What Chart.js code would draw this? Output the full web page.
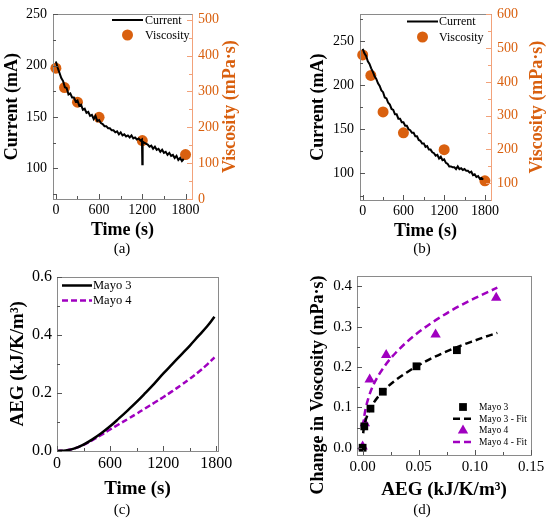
<!DOCTYPE html>
<html>
<head>
<meta charset="utf-8">
<script src="https://cdn.jsdelivr.net/npm/chart.js@4.4.1/dist/chart.umd.min.js"></script>
<style>
  body { margin: 0; background: #fff; width: 550px; height: 524px; position: relative; overflow: hidden; font-family: "Liberation Serif", serif; }
  canvas { position: absolute; }
  .cap { position: absolute; width: 60px; text-align: center; font-size: 15px; line-height: 15px; color: #000; }
</style>
</head>
<body>
<canvas id="chartA" width="275" height="262" style="left:0;top:0"></canvas>
<canvas id="chartB" width="275" height="262" style="left:275px;top:0"></canvas>
<canvas id="chartC" width="275" height="262" style="left:0;top:262px"></canvas>
<canvas id="chartD" width="275" height="262" style="left:275px;top:262px"></canvas>
<div class="cap" style="left:92px;top:241px">(a)</div>
<div class="cap" style="left:392px;top:241px">(b)</div>
<div class="cap" style="left:92px;top:502px">(c)</div>
<div class="cap" style="left:392px;top:502px">(d)</div>
<script>
const FONT = '"Liberation Serif", "Times New Roman", serif';
const ORANGE = '#D9600F';
const ORANGE_LIGHT = '#F2A27A';
const PURPLE = '#A000C0';
const FRAME = '#8a8a8a';

// panel (a) - current trace
const timeA = [0, 25, 50, 75, 100, 125, 150, 175, 200, 225, 250, 275, 300, 325, 350, 375, 400, 425, 450, 475,
  500, 525, 550, 575, 600, 625, 650, 675, 700, 725, 750, 775, 800, 825, 850, 875, 900, 925, 950, 975,
  1000, 1025, 1050, 1075, 1100, 1125, 1150, 1175, 1195, 1200, 1205, 1225, 1250, 1275, 1300, 1325, 1350, 1375,
  1400, 1425, 1450, 1475, 1500, 1525, 1550, 1575, 1600, 1625, 1650, 1675, 1700, 1725, 1750, 1775];
const currentA = [204, 198, 193, 188, 185, 179, 178, 172, 173, 169, 169, 165, 166, 161, 162, 157, 158, 154, 155, 151,
  152, 148, 151, 146, 147, 144, 143, 141, 141, 139, 139, 137, 137, 135, 136, 133, 135, 132, 133, 131,
  132, 130, 132, 129, 130, 128, 129, 127, 128, 104, 126, 125, 124, 123, 121, 122, 119, 121,
  118, 119, 116, 118, 115, 116, 113, 115, 112, 113, 110, 112, 108, 110, 107, 109];

// viscosity samples (a) and (b)
const viscTime = [0, 120, 300, 600, 1200, 1800];
const viscA = [365, 311, 270, 228, 163, 124];
const viscB = [480, 419, 311, 249, 199, 107];

// panel (b) - current trace
const timeB = [0, 25, 50, 75, 100, 125, 150, 175, 200, 225, 250, 275, 300, 325, 350, 375, 400, 425, 450, 475,
  500, 525, 550, 575, 600, 625, 650, 675, 700, 725, 750, 775, 800, 825, 850, 875, 900, 925, 950, 975,
  1000, 1025, 1050, 1075, 1100, 1125, 1150, 1175, 1200, 1225, 1250, 1275, 1300, 1325, 1350, 1375,
  1400, 1425, 1450, 1475, 1500, 1525, 1550, 1575, 1600, 1625, 1650, 1675, 1700, 1725, 1750, 1775];
const currentB = [241, 236, 233, 227, 224, 219, 215, 210, 207, 202, 199, 194, 192, 186, 185, 180, 178, 173, 172, 167,
  167, 162, 162, 158, 158, 154, 154, 150, 149, 146, 146, 142, 142, 138, 137, 134, 134, 130, 131, 127,
  127, 124, 123, 120, 121, 117, 119, 115, 116, 112, 111, 108, 108, 107, 107, 105,
  108, 105, 106, 104, 105, 103, 103, 101, 102, 98, 99, 96, 97, 94, 95, 93];

// panel (c) - accumulated energy
const timeC = [0, 100, 200, 300, 400, 500, 600, 700, 800, 900, 1000, 1100, 1200, 1300, 1400, 1500, 1600, 1700, 1780];
const aegMayo3 = [0, 0.002, 0.009, 0.022, 0.040, 0.061, 0.085, 0.112, 0.140, 0.169, 0.200, 0.232, 0.266, 0.298, 0.330, 0.362, 0.396, 0.430, 0.462];
const aegMayo4 = [0, 0.002, 0.009, 0.021, 0.037, 0.055, 0.074, 0.092, 0.110, 0.128, 0.147, 0.166, 0.185, 0.205, 0.226, 0.248, 0.272, 0.298, 0.322];

// panel (d) - viscosity change vs AEG
const aegPts3 = [0, 0.0015, 0.007, 0.018, 0.048, 0.084];
const dVisc3 = [0, 0.053, 0.097, 0.139, 0.202, 0.242];
const aegPts4 = [0, 0.002, 0.0063, 0.021, 0.065, 0.119];
const dVisc4 = [0.003, 0.061, 0.169, 0.230, 0.281, 0.372];
const fitX = [0.0005, 0.001, 0.002, 0.005, 0.01, 0.02, 0.03, 0.04, 0.05, 0.06, 0.07, 0.08, 0.09, 0.10, 0.11, 0.12];
const fit3 = [0.036, 0.047, 0.061, 0.086, 0.112, 0.145, 0.169, 0.188, 0.205, 0.220, 0.233, 0.245, 0.256, 0.266, 0.276, 0.285];
const fit4 = [0.052, 0.067, 0.087, 0.122, 0.158, 0.204, 0.237, 0.264, 0.287, 0.307, 0.325, 0.342, 0.357, 0.371, 0.384, 0.397];

// tick values
const timeTicks = [0, 600, 1200, 1800];
const timeMinor = [300, 900, 1500];

function pts(xs, ys) {
  return xs.map((x, i) => ({x: x, y: ys[i]}));
}

function font(size, bold) {
  return {family: FONT, size: size, weight: bold ? 'bold' : 'normal', lineHeight: 1.2};
}

function axis(o) {
  return {
    type: 'linear',
    position: o.position,
    min: o.min,
    max: o.max,
    afterBuildTicks: s => { s.ticks = o.ticks.map(v => ({value: v})); },
    afterFit: s => { if (s.isHorizontal()) s.height = o.size; else s.width = o.size; },
    grid: {display: false, drawTicks: false},
    border: {display: false},
    ticks: {
      font: font(o.fontSize),
      color: o.color || '#000',
      padding: o.pad,
      autoSkip: false,
      maxRotation: 0,
      callback: o.fmt || (v => String(v))
    },
    title: o.title ? {display: true, text: o.title, color: '#000', font: font(o.titleSize, true), padding: 0} : {display: false}
  };
}

// frame, inward ticks, rotated y titles and in-plot legend
const decor = {
  id: 'decor',
  afterDraw(chart, args, opts) {
    const ctx = chart.ctx;
    const a = chart.chartArea;
    ctx.save();
    ctx.lineWidth = 1;
    ctx.strokeStyle = FRAME;
    ctx.strokeRect(Math.round(a.left) + 0.5, Math.round(a.top) + 0.5, Math.round(a.right - a.left), Math.round(a.bottom - a.top));
    if (opts.rightColor) {
      ctx.strokeStyle = opts.rightColor;
      ctx.beginPath();
      ctx.moveTo(Math.round(a.right) + 0.5, a.top);
      ctx.lineTo(Math.round(a.right) + 0.5, a.bottom + 1);
      ctx.stroke();
    }

    Object.keys(opts.minor || {}).forEach(id => {
      const sc = chart.scales[id];
      ctx.strokeStyle = id === 'y1' ? opts.rightColor : '#555';
      const mark = (v, len) => {
        const p = Math.round(sc.getPixelForValue(v)) + 0.5;
        ctx.beginPath();
        if (sc.isHorizontal()) {
          ctx.moveTo(p, a.bottom); ctx.lineTo(p, a.bottom - len);
        } else if (sc.position === 'left') {
          ctx.moveTo(a.left, p); ctx.lineTo(a.left + len, p);
        } else {
          ctx.moveTo(a.right, p); ctx.lineTo(a.right - len, p);
        }
        ctx.stroke();
      };
      sc.ticks.forEach(t => mark(t.value, 5));
      opts.minor[id].forEach(v => mark(v, 3));
    });

    (opts.vtitles || []).forEach(t => {
      ctx.save();
      ctx.translate(t.x, t.y !== undefined ? t.y : (a.top + a.bottom) / 2);
      ctx.rotate(-Math.PI / 2);
      ctx.font = 'bold ' + t.size + 'px ' + FONT;
      ctx.fillStyle = t.color || '#000';
      ctx.textAlign = 'center';
      ctx.textBaseline = 'middle';
      ctx.fillText(t.text, 0, 0);
      ctx.restore();
    });

    const lg = opts.legend;
    if (lg) {
      chart.data.datasets.forEach((ds, i) => {
        const y = lg.y + i * lg.dy;
        if (ds.showLine) {
          ctx.strokeStyle = ds.borderColor;
          ctx.lineWidth = ds.borderWidth;
          ctx.setLineDash(ds.borderDash || []);
          ctx.beginPath();
          ctx.moveTo(lg.x, y);
          ctx.lineTo(lg.x + lg.len, y);
          ctx.stroke();
          ctx.setLineDash([]);
        } else {
          ctx.fillStyle = ds.backgroundColor;
          ctx.strokeStyle = ds.backgroundColor;
          Chart.helpers.drawPoint(ctx, {pointStyle: ds.pointStyle || 'circle', radius: ds.pointRadius, rotation: 0, borderWidth: 0}, lg.x + lg.len / 2, y);
        }
        ctx.fillStyle = '#000';
        ctx.font = lg.size + 'px ' + FONT;
        ctx.textAlign = 'left';
        ctx.textBaseline = 'middle';
        ctx.fillText(ds.label, lg.textX, y + 0.5);
      });
    }
    ctx.restore();
  }
};

function baseOptions(padding) {
  return {
    responsive: false,
    animation: false,
    events: [],
    layout: {padding: padding},
    plugins: {legend: {display: false}, tooltip: {enabled: false}}
  };
}

function currentChart(id, times, current, visc, cur, vis, legend, titleX) {
  const options = baseOptions({left: 0, right: 0, top: cur.top, bottom: cur.bottom});
  options.scales = {
    x: axis({position: 'bottom', min: -40, max: 1890, ticks: timeTicks, size: cur.xh, fontSize: 14, pad: 3, title: 'Time (s)', titleSize: 18}),
    y: axis({position: 'left', min: cur.min, max: cur.max, ticks: cur.ticks, size: cur.w, fontSize: 14, pad: 6}),
    y1: axis({position: 'right', min: vis.min, max: vis.max, ticks: vis.ticks, size: vis.w, fontSize: 14, pad: 6, color: ORANGE})
  };
  options.plugins.decor = {
    rightColor: ORANGE_LIGHT,
    minor: {x: timeMinor, y: cur.minor, y1: vis.minor},
    vtitles: [
      {text: 'Current (mA)', x: titleX[0], size: 18},
      {text: 'Viscosity (mPa\u00b7s)', x: titleX[1], size: 18, color: ORANGE}
    ],
    legend: legend
  };
  return new Chart(document.getElementById(id), {
    type: 'scatter',
    data: {
      datasets: [
        {label: 'Current', data: pts(times, current), yAxisID: 'y', showLine: true, borderColor: '#000', borderWidth: 2, pointRadius: 0, tension: 0},
        {label: 'Viscosity', data: pts(viscTime, visc), yAxisID: 'y1', showLine: false, backgroundColor: ORANGE, borderWidth: 0, pointRadius: 5.5, clip: false}
      ]
    },
    options: options,
    plugins: [decor]
  });
}

currentChart('chartA', timeA, currentA, viscA,
  {min: 70, max: 250, ticks: [100, 150, 200, 250], minor: [75, 125, 175, 225], w: 53, top: 11, bottom: 21, xh: 42},
  {min: 0, max: 515, ticks: [0, 100, 200, 300, 400, 500], minor: [50, 150, 250, 350, 450], w: 83},
  {x: 112, len: 31, y: 20, dy: 15, textX: 145, size: 12},
  [12, 230]);

currentChart('chartB', timeB, currentB, viscB,
  {min: 70, max: 280, ticks: [100, 150, 200, 250], minor: [75, 125, 175, 225, 275], w: 85, top: 12, bottom: 20, xh: 42},
  {min: 50, max: 600, ticks: [100, 200, 300, 400, 500, 600], minor: [150, 250, 350, 450, 550], w: 59},
  {x: 132, len: 31, y: 21.5, dy: 15.5, textX: 164, size: 12},
  [43, 262]);

// panel (c)
(function () {
  const options = baseOptions({left: 0, right: 57, top: 7, bottom: 24});
  options.scales = {
    x: axis({position: 'bottom', min: 0, max: 1820, ticks: timeTicks, size: 49, fontSize: 16, pad: 3, title: 'Time (s)', titleSize: 19}),
    y: axis({position: 'left', min: 0, max: 0.6, ticks: [0, 0.2, 0.4, 0.6], size: 57, fontSize: 16, pad: 5, fmt: v => v.toFixed(1)})
  };
  options.plugins.decor = {
    minor: {x: timeMinor, y: [0.1, 0.3, 0.5]},
    vtitles: [{text: 'AEG (kJ/K/m\u00b3)', x: 18, size: 19}],
    legend: {x: 62, len: 30, y: 23.5, dy: 15, textX: 93, size: 12.5}
  };
  new Chart(document.getElementById('chartC'), {
    type: 'scatter',
    data: {
      datasets: [
        {label: 'Mayo 3', data: pts(timeC, aegMayo3), showLine: true, borderColor: '#000', borderWidth: 2.5, pointRadius: 0, tension: 0.4},
        {label: 'Mayo 4', data: pts(timeC, aegMayo4), showLine: true, borderColor: PURPLE, borderWidth: 2.5, borderDash: [6, 3], pointRadius: 0, tension: 0.4}
      ]
    },
    options: options,
    plugins: [decor]
  });
})();

// panel (d)
(function () {
  const options = baseOptions({left: 0, right: 19, top: 7, bottom: 23});
  options.scales = {
    x: axis({position: 'bottom', min: -0.005, max: 0.15, ticks: [0, 0.05, 0.10, 0.15], size: 46, fontSize: 15, pad: 3, title: 'AEG (kJ/K/m\u00b3)', titleSize: 19, fmt: v => v.toFixed(2)}),
    y: axis({position: 'left', min: -0.018, max: 0.426, ticks: [0, 0.1, 0.2, 0.3, 0.4], size: 82, fontSize: 15, pad: 5, fmt: v => v.toFixed(1)})
  };
  options.plugins.decor = {
    minor: {x: [0.025, 0.075, 0.125], y: [0.05, 0.15, 0.25, 0.35]},
    vtitles: [{text: 'Change in Voscosity (mPa\u00b7s)', x: 43, y: 123, size: 18}],
    legend: {x: 178, len: 20, y: 145, dy: 11.7, textX: 204, size: 9.5}
  };
  new Chart(document.getElementById('chartD'), {
    type: 'scatter',
    data: {
      datasets: [
        {label: 'Mayo 3', data: pts(aegPts3, dVisc3), showLine: false, pointStyle: 'rect', backgroundColor: '#000', borderWidth: 0, pointRadius: 5.5, clip: false},
        {label: 'Mayo 3 - Fit', data: pts(fitX, fit3), showLine: true, borderColor: '#000', borderWidth: 2.5, borderDash: [7, 4], pointRadius: 0, cubicInterpolationMode: 'monotone'},
        {label: 'Mayo 4', data: pts(aegPts4, dVisc4), showLine: false, pointStyle: 'triangle', backgroundColor: PURPLE, borderWidth: 0, pointRadius: 6, clip: false},
        {label: 'Mayo 4 - Fit', data: pts(fitX, fit4), showLine: true, borderColor: PURPLE, borderWidth: 2.5, borderDash: [7, 4], pointRadius: 0, cubicInterpolationMode: 'monotone'}
      ]
    },
    options: options,
    plugins: [decor]
  });
})();
</script>
</body>
</html>
